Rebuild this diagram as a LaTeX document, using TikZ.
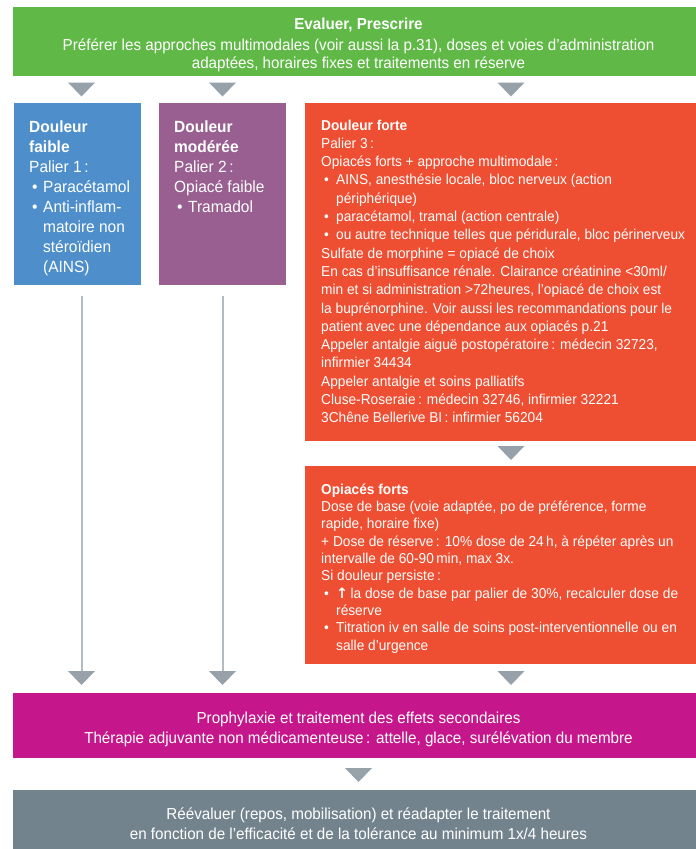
\documentclass[tikz,border=0pt]{standalone}
\usepackage{fontspec}
\setmainfont{Liberation Sans}[FakeStretch=0.955]
\newfontfamily\symfont{DejaVu Sans}
\usepackage{tikz}
\usetikzlibrary{arrows.meta,positioning,calc}

\definecolor{cvert}{HTML}{60B947}
\definecolor{cbleu}{HTML}{4E8FCB}
\definecolor{cviolet}{HTML}{985F90}
\definecolor{corange}{HTML}{EE4E31}
\definecolor{cmagenta}{HTML}{C5178B}
\definecolor{cgris}{HTML}{73838D}
\definecolor{cfleche}{HTML}{97A1A9}
\definecolor{cligne}{HTML}{B3BBC1}

% bullets and hanging indent
\newcommand{\puce}[1][15pt]{\makebox[#1][l]{\hspace{3pt}•}}
\newcommand{\retrait}[1][15pt]{\hspace*{#1}}

\tikzset{
  boite/.style={rectangle, inner sep=0pt, outer sep=0pt, anchor=north west},
  texte/.style={inner sep=0pt, anchor=north west, align=left, text=white},
  centre/.style={inner sep=0pt, align=center, text=white, font=\fontsize{15.9}{20}\selectfont},
  grand/.style={font=\fontsize{16.2}{20}\selectfont},
  moyen/.style={font=\fontsize{14.35}{18.3}\selectfont},
  fleche/.style={draw=cfleche, line width=0.4pt,
    -{Triangle[width=27pt,length=14pt,line width=0pt,color=cfleche,fill=cfleche]}},
  longue/.style={draw=cligne, line width=2pt,
    -{Triangle[width=27pt,length=14pt,line width=0pt,color=cfleche,fill=cfleche]}}
}

\begin{document}
\begin{tikzpicture}[x=1pt,y=-1pt]
\useasboundingbox (0,0) rectangle (696,849);
\clip (0,0) rectangle (696,849);

% Top box
\node[boite, fill=cvert, minimum width=691pt, minimum height=69pt] (eval) at (13,7) {};
\node[centre, font=\fontsize{15.9}{18.6}\selectfont] (evaltxt) at ([yshift=-3.5pt]eval.center)
  {\textbf{Evaluer, Prescrire}\\[2.5pt]
   Préférer les approches multimodales (voir aussi la p.31), doses et voies d’administration\\
   adaptées, horaires fixes et traitements en réserve};

% Three levels
\node[boite, fill=cbleu, minimum width=127pt, minimum height=182pt] (faible) at (14,103) {};
\node[texte, grand] (faibletxt) at ([xshift=15pt,yshift=-15pt]faible.north west)
  {\strut\textbf{Douleur}\\
   \textbf{faible}\\
   Palier 1\,:\\
   \puce[14pt]Paracétamol\\
   \puce[14pt]Anti-inflam-\\
   \retrait[14pt]matoire non\\
   \retrait[14pt]stéroïdien\\
   \retrait[14pt](AINS)};

\node[boite, fill=cviolet, minimum width=127pt, minimum height=182pt] (moderee) at (159,103) {};
\node[texte, grand] (modereetxt) at ([xshift=15pt,yshift=-15pt]moderee.north west)
  {\strut\textbf{Douleur}\\
   \textbf{modérée}\\
   Palier 2\,:\\
   Opiacé faible\\
   \puce[14pt]Tramadol};

\node[boite, fill=corange, minimum width=412pt, minimum height=338pt] (forte) at (305,103) {};
\node[texte, moyen] (fortetxt) at ([xshift=16pt,yshift=-14pt]forte.north west)
  {\strut\textbf{Douleur forte}\\
   Palier 3\,:\\
   Opiacés forts + approche multimodale\,:\\
   \puce AINS, anesthésie locale, bloc nerveux (action\\
   \retrait périphérique)\\
   \puce paracétamol, tramal (action centrale)\\
   \puce ou autre technique telles que péridurale, bloc périnerveux\\
   Sulfate de morphine = opiacé de choix\\
   En cas d’insuffisance rénale. Clairance créatinine <30ml/\\
   min et si administration >72heures, l’opiacé de choix est\\
   la buprénorphine. Voir aussi les recommandations pour le\\
   patient avec une dépendance aux opiacés p.21\\
   Appeler antalgie aiguë postopératoire\,: médecin 32723,\\
   infirmier 34434\\
   Appeler antalgie et soins palliatifs\\
   Cluse-Roseraie\,: médecin 32746, infirmier 32221\\
   3Chêne Bellerive BI\,: infirmier 56204};

\node[boite, fill=corange, minimum width=412pt, minimum height=198pt] (opiaces) at (305,466) {};
\node[texte, font=\fontsize{14.35}{17.3}\selectfont] (opiacestxt) at ([xshift=16pt,yshift=-16pt]opiaces.north west)
  {\strut\textbf{Opiacés forts}\\
   Dose de base (voie adaptée, po de préférence, forme\\
   rapide, horaire fixe)\\
   + Dose de réserve\,: 10\% dose de 24\,h, à répéter après un\\
   intervalle de 60-90\,min, max 3x.\\
   Si douleur persiste\,:\\
   \puce{\symfont\bfseries ↑}\,la dose de base par palier de 30\%, recalculer dose de\\
   \retrait réserve\\
   \puce Titration iv en salle de soins post-interventionnelle ou en\\
   \retrait salle d’urgence};

% Bottom boxes
\node[boite, fill=cmagenta, minimum width=691pt, minimum height=65pt] (proph) at (13,693) {};
\node[centre] (prophtxt) at ([yshift=-4pt]proph.center)
  {Prophylaxie et traitement des effets secondaires\\
   Thérapie adjuvante non médicamenteuse\,: attelle, glace, surélévation du membre};

\node[boite, fill=cgris, minimum width=691pt, minimum height=66pt] (reeval) at (13,790) {};
\node[centre] (reevaltxt) at ([yshift=-1pt]reeval.center)
  {Réévaluer (repos, mobilisation) et réadapter le traitement\\
   en fonction de l’efficacité et de la tolérance au minimum 1x/4 heures};

% Arrows
\draw[fleche, shorten <=6.5pt, shorten >=6.5pt]
  ([xshift=4pt]faible.north |- eval.south) -- ([xshift=4pt]faible.north);
\draw[fleche, shorten <=6.5pt, shorten >=6.5pt]
  (moderee.north |- eval.south) -- (moderee.north);
\draw[fleche, shorten <=6.5pt, shorten >=6.5pt]
  (forte.north |- eval.south) -- (forte.north);
\draw[fleche, shorten <=5pt, shorten >=6pt] (forte.south) -- (opiaces.north);
\draw[longue, shorten <=11pt, shorten >=8pt]
  ([xshift=4pt]faible.south) -- ([xshift=4pt]faible.south |- proph.north);
\draw[longue, shorten <=11pt, shorten >=8pt]
  (moderee.south) -- (moderee.south |- proph.north);
\draw[fleche, shorten <=7pt, shorten >=8pt] (opiaces.south) -- (opiaces.south |- proph.north);
\draw[fleche, shorten <=10pt, shorten >=8pt] (proph.south) -- (reeval.north);
\end{tikzpicture}
\end{document}
